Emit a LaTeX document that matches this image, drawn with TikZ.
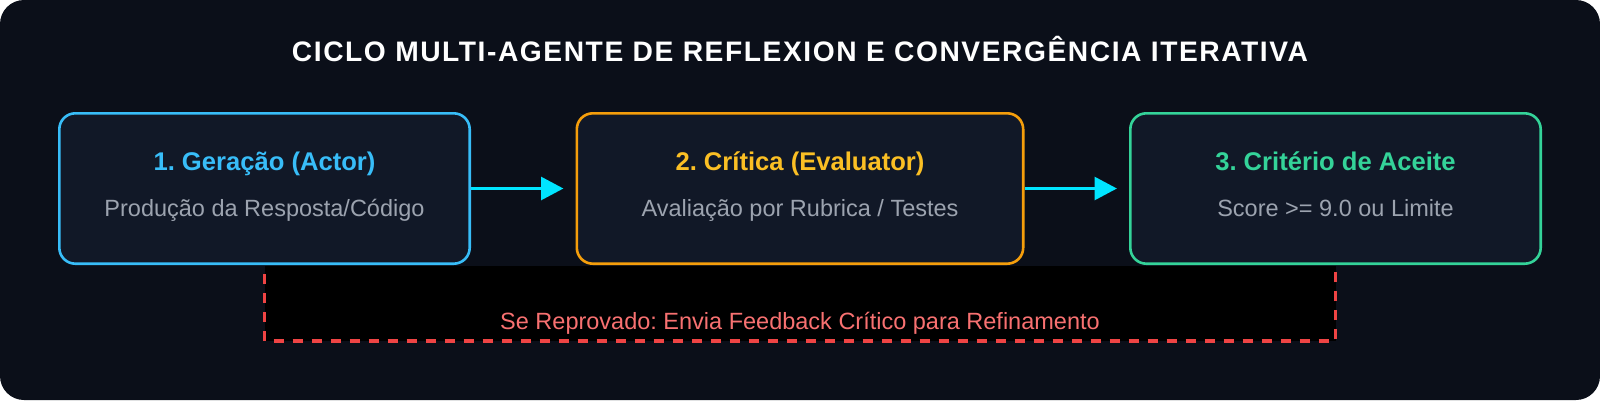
\documentclass[tikz,border=0pt]{standalone}
\usepackage{fontspec}
\setmainfont{Liberation Sans}
\newfontfamily\titlefont[LetterSpace=5.5]{Liberation Sans}
\usetikzlibrary{arrows.meta,calc}
\definecolor{bgc}{HTML}{0B0F19}
\definecolor{boxfill}{HTML}{111827}
\definecolor{cblue}{HTML}{38BDF8}
\definecolor{corange}{HTML}{F59E0B}
\definecolor{cyellow}{HTML}{FBBF24}
\definecolor{cgreen}{HTML}{34D399}
\definecolor{cgray}{HTML}{9CA3AF}
\definecolor{ccyan}{HTML}{00E5FF}
\definecolor{cred}{HTML}{EF4444}
\definecolor{credtext}{HTML}{F87171}
\frenchspacing
\begin{document}
\begin{tikzpicture}[x=1pt,y=-1pt,
  stagebox/.style={draw, fill=boxfill, line width=2.6pt, rounded corners=16pt,
    minimum width=410.4pt, minimum height=150.4pt, inner sep=0pt},
  boxtitle/.style={anchor=base, font=\fontsize{25.6}{30}\selectfont\bfseries, inner sep=0pt},
  boxsub/.style={anchor=base, text=cgray, font=\fontsize{23.5}{28}\selectfont, inner sep=0pt},
  flowarrow/.style={draw=ccyan, line width=3.84pt, -{Triangle[length=22.5pt,width=22.7pt]}, shorten >=12pt},
  dashline/.style={draw=cred, line width=3.8pt, dash pattern=on 10pt off 9pt, dash phase=11pt}
]
\useasboundingbox (0,0) rectangle (1600,400);
\fill[white] (0,0) rectangle (1600,400);
\fill[bgc, rounded corners=24pt] (0,0) rectangle (1600,400);

\node[anchor=base, text=white, inner sep=0pt, font=\titlefont\fontsize{28.2}{34}\selectfont\bfseries] (title) at (800,61)
  {CICLO MULTI-AGENTE DE REFLEXION E CONVERGÊNCIA ITERATIVA};

\node[stagebox, draw=cblue] (b1) at (264.5,188.5) {};
\node[stagebox, draw=corange, minimum width=446.4pt] (b2) at (800,188.5) {};
\node[stagebox, draw=cgreen] (b3) at (1335.5,188.5) {};

\node[boxtitle, text=cblue] (t1) at (264.5,170) {1. Geração (Actor)};
\node[boxsub] (s1) at (264.5,216) {Produção da Resposta/Código};
\node[boxtitle, text=cyellow] (t2) at (800,170) {2. Crítica (Evaluator)};
\node[boxsub] (s2) at (800,216) {Avaliação por Rubrica / Testes};
\node[boxtitle, text=cgreen] (t3) at (1335.5,170) {3. Critério de Aceite};
\node[boxsub] (s3) at (1335.5,216) {Score >= 9.0 ou Limite};

\draw[flowarrow] (b1.east) -- (b2.west);
\draw[flowarrow] (b2.east) -- (b3.west);

\coordinate (bot) at (800,341.3);
\fill[black] ($(b1.south)+(0,1.3)$) rectangle ($(b3.south |- bot)$);
\draw[dashline] ($(b1.south)+(0,1.3)$) -- (b1.south |- bot) -- (b3.south |- bot) -- ($(b3.south)+(0,1.3)$);

\node[anchor=base, text=credtext, inner sep=0pt, font=\fontsize{23.5}{28}\selectfont] (fb) at (800,329.5)
  {Se Reprovado: Envia Feedback Crítico para Refinamento};
\end{tikzpicture}
\end{document}
